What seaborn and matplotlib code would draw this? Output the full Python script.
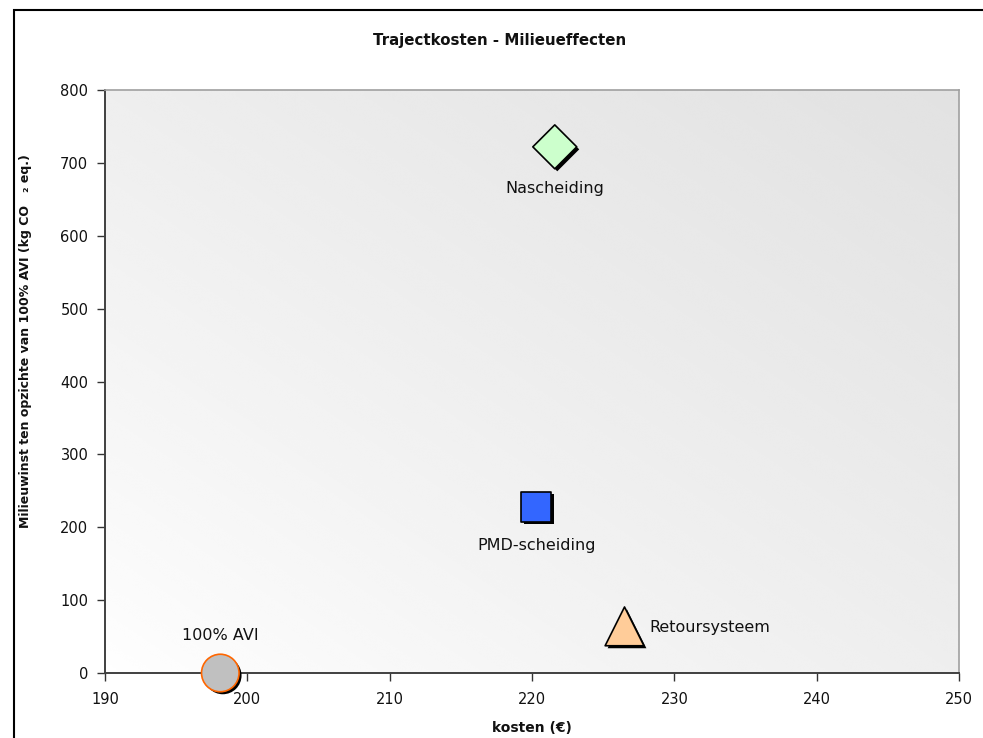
import numpy as np
import pandas as pd
import matplotlib
matplotlib.use("Agg")
import matplotlib.pyplot as plt
import matplotlib.patheffects as pe
from matplotlib.patches import Rectangle
import seaborn as sns

# Scenario data
scenarios = ["Nascheiding", "PMD-scheiding", "Retoursysteem", "100% AVI"]
kosten = [221.6, 220.3, 226.5, 198.1]
milieuwinst = [722, 228, 64, 0]

markers = ["D", "s", "^", "o"]
face_colors = ["#ccffcc", "#3366ff", "#ffcc99", "#c0c0c0"]
edge_colors = ["#000000", "#000000", "#000000", "#ff6600"]
marker_sizes = [500, 470, 780, 730]
# label offsets (points) relative to each marker and alignment
label_offsets = [(0, -30), (0, -27.5), (18, -1), (0, 27)]
label_ha = ["center", "center", "left", "center"]

df = pd.DataFrame({"scenario": scenarios, "kosten": kosten, "milieuwinst": milieuwinst})

sns.set_theme(style="white")
plt.rcParams["font.family"] = ["DejaVu Sans"]

fig = plt.figure(figsize=(9.83, 7.38), dpi=100)
W, H = 983, 738
ax = fig.add_axes([105 / W, 1 - 673 / H, (959 - 105) / W, (673 - 90) / H])

# soft diagonal gradient behind the plot area
gx, gy = np.meshgrid(np.linspace(0, 1, 200), np.linspace(0, 1, 200))
grad = 1.0 - 0.115 * (gx * 0.5 + gy * 0.5) ** 0.8
ax.imshow(grad, extent=[190, 250, 0, 800], origin="lower", aspect="auto",
          cmap="gray", vmin=0, vmax=1, zorder=0, interpolation="bicubic")

shadow = [pe.SimplePatchShadow(offset=(1.8, -1.8), shadow_rgbFace="black", alpha=1.0), pe.Normal()]

for i, row in df.iterrows():
    sns.scatterplot(data=df.iloc[[i]], x="kosten", y="milieuwinst", marker=markers[i],
                    s=marker_sizes[i], color=face_colors[i], edgecolor=edge_colors[i],
                    linewidth=1.2, ax=ax, zorder=5, legend=False)
    coll = ax.collections[-1]
    coll.set_path_effects(shadow)
    coll.set_clip_on(False)
    ax.annotate(row["scenario"], (row["kosten"], row["milieuwinst"]),
                xytext=label_offsets[i], textcoords="offset points",
                ha=label_ha[i], va="center", fontsize=11.5, color="#111111",
                zorder=6, annotation_clip=False)

ax.set_xlim(190, 250)
ax.set_ylim(0, 800)
ax.set_xticks(np.arange(190, 251, 10))
ax.set_yticks(np.arange(0, 801, 100))
ax.tick_params(axis="both", direction="out", length=6, width=1, color="#333333",
               labelsize=10.5, labelcolor="#111111", pad=6)
ax.tick_params(axis="x", pad=8)
ax.tick_params(bottom=True, left=True)

for side in ["top", "right"]:
    ax.spines[side].set_color("#a0a0a0")
    ax.spines[side].set_linewidth(1.2)
for side in ["left", "bottom"]:
    ax.spines[side].set_color("#404040")
    ax.spines[side].set_linewidth(1.4)

ax.set_xlabel("kosten (€)", fontsize=10, fontweight="bold", labelpad=10, color="#111111")
ax.set_ylabel("Milieuwinst ten opzichte van 100% AVI (kg CO   ₂ eq.)", fontsize=9,
              fontweight="bold", color="#111111")
ax.yaxis.set_label_coords(-0.086, 0.57)

fig.text(500 / W, 1 - 40 / H, "Trajectkosten - Milieueffecten", ha="center", va="center",
         fontsize=10.8, fontweight="bold", color="#111111")

# outer chart frame
fig.patches.append(Rectangle((14 / W, -0.1), 1.2, 1 - 10 / H + 0.1, transform=fig.transFigure,
                             fill=False, edgecolor="black", linewidth=1.5))

fig.savefig("out.png", dpi=100)
